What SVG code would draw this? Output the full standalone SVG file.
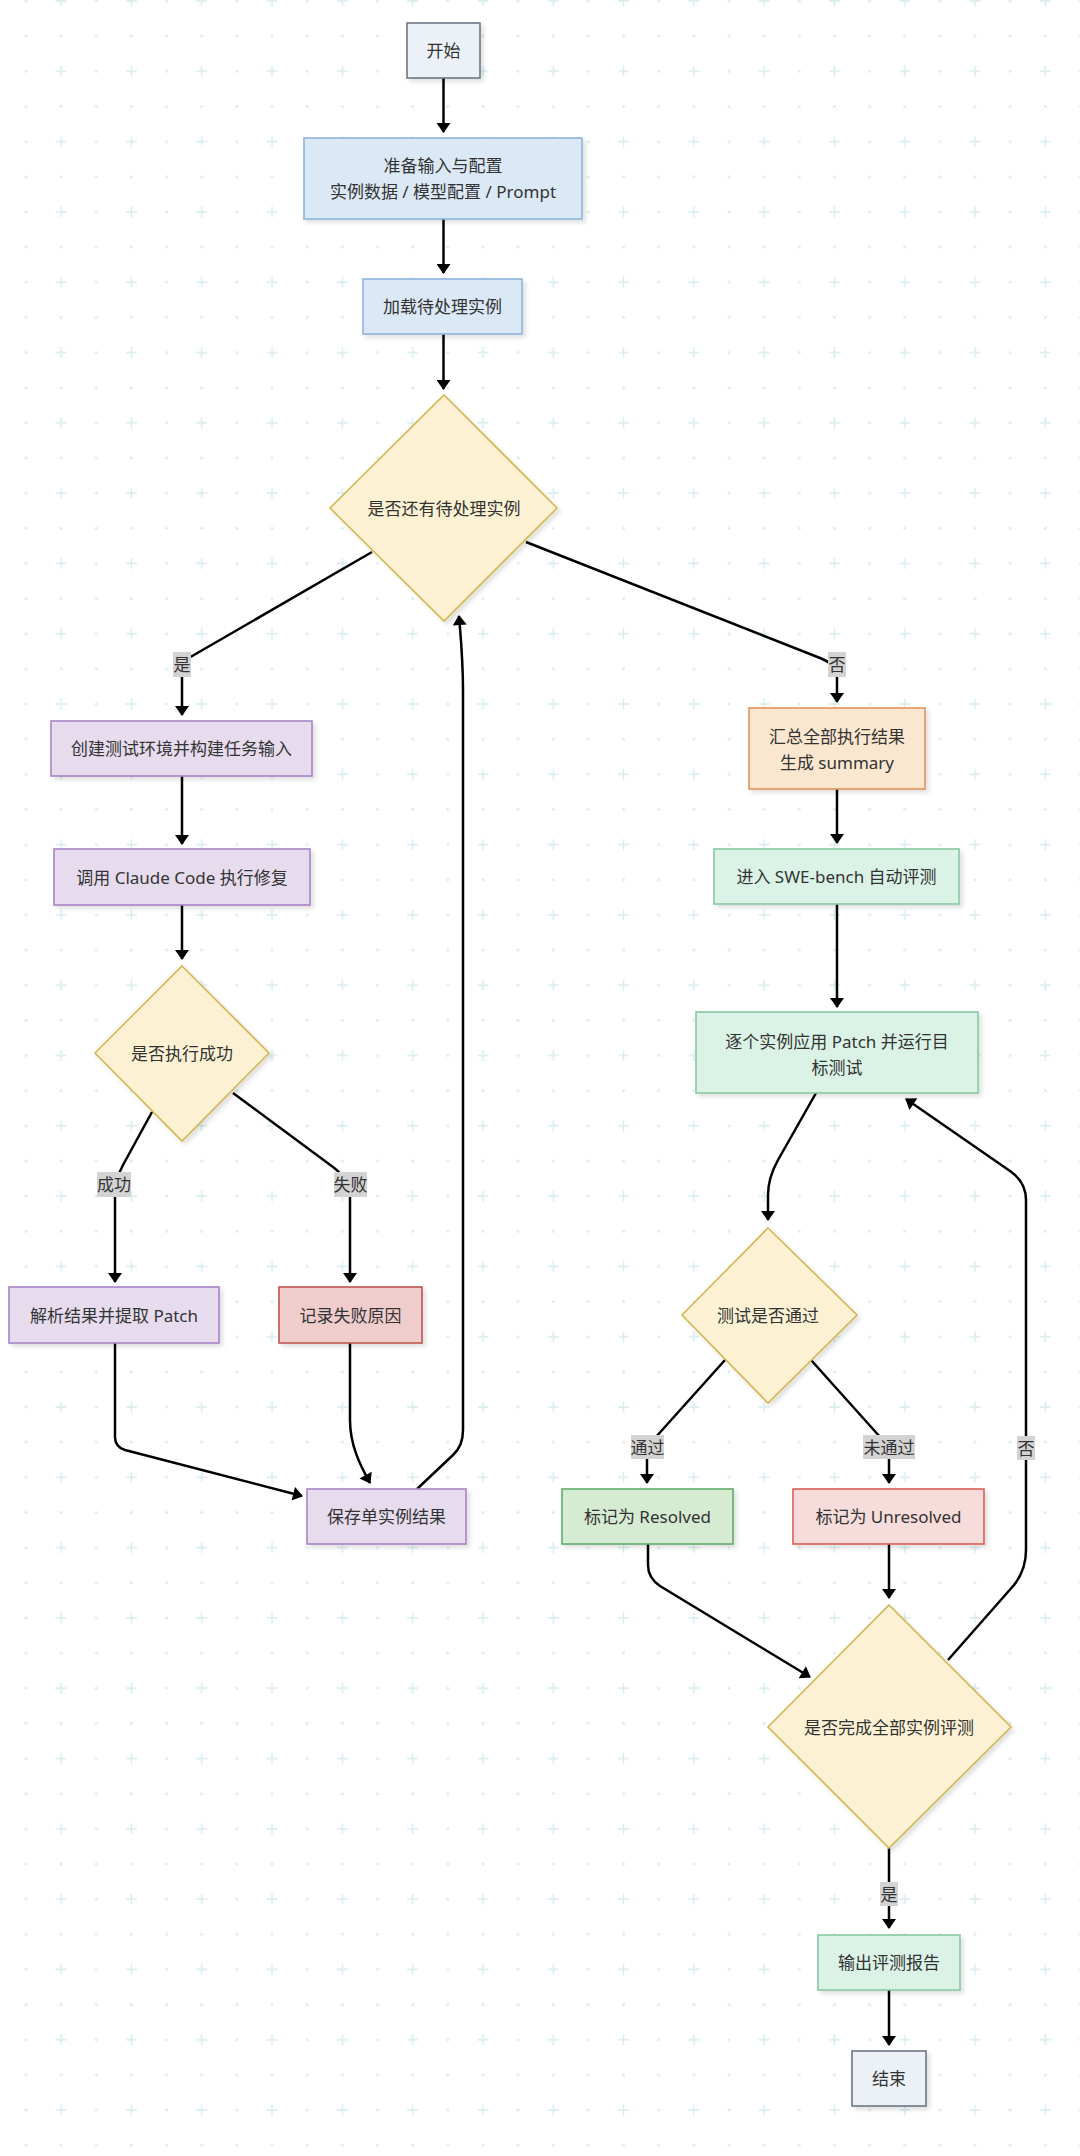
<svg xmlns="http://www.w3.org/2000/svg" width="1080" height="2156" viewBox="0 0 1080 2156">
<defs>
<pattern id="grid" patternUnits="userSpaceOnUse" x="26" y="1" width="70.3" height="70.3">
<circle cx="0" cy="0" r="1.6" fill="#e0ecec"/>
<circle cx="70.3" cy="0" r="1.6" fill="#e0ecec"/>
<circle cx="0" cy="70.3" r="1.6" fill="#e0ecec"/>
<circle cx="70.3" cy="70.3" r="1.6" fill="#e0ecec"/>
<circle cx="0" cy="35.15" r="1.6" fill="#e0ecec"/>
<circle cx="70.3" cy="35.15" r="1.6" fill="#e0ecec"/>
<circle cx="35.15" cy="35.15" r="1.6" fill="#e0ecec"/>
<path d="M35.15,-5.5 V5.5 M29.65,0 H40.65 M35.15,64.8 V75.8 M29.65,70.3 H40.65" stroke="#d6ecee" stroke-width="1.5"/>
</pattern>
<filter id="sh" x="-10%" y="-10%" width="130%" height="140%">
<feDropShadow dx="3" dy="3" stdDeviation="2" flood-color="#000" flood-opacity="0.12"/>
</filter>
<marker id="arr" markerUnits="userSpaceOnUse" viewBox="0 0 10 14" markerWidth="11" markerHeight="14" refX="9" refY="7" orient="auto">
<path d="M0,0 L10,7 L0,14 z" fill="#000"/>
</marker>
<style>
text{font-family:"Noto Sans","Noto Sans CJK SC",sans-serif;font-size:17px;fill:#333;text-anchor:middle;dominant-baseline:central}
.e{fill:none;stroke:#000;stroke-width:2.5;marker-end:url(#arr)}
.lb{fill:#d3d3d3}
.n{filter:url(#sh);stroke-width:1.6}
.term{fill:#ecf1f8;stroke:#6f7782}
.blue{fill:#dbe8f5;stroke:#8fb3dc}
.dec{fill:#fcf2d3;stroke:#d5b654}
.pur{fill:#e6dcee;stroke:#a884c6}
.red{fill:#f0cdcd;stroke:#bf5450}
.org{fill:#fbe6cf;stroke:#e3955a}
.grn{fill:#dbf3e6;stroke:#88c9a0}
.res{fill:#d5ecd3;stroke:#5fad6b}
.unr{fill:#f6dcda;stroke:#de5e58}
</style>
</defs>
<rect width="1080" height="2156" fill="#fff"/>
<rect width="1080" height="2156" fill="url(#grid)"/>

<g id="connectors">
<path class="e" d="M443.5,78 L443.5,132"/>
<path class="e" d="M443.5,219 L443.5,273"/>
<path class="e" d="M443.5,334 L443.5,389"/>
<path class="e" d="M372,552 L187,659 Q182,662 182,670 L182,715"/>
<path class="e" d="M182,776 L182,844"/>
<path class="e" d="M182,905 L182,959"/>
<path class="e" d="M152,1112 L123,1165 Q115,1180 115,1195 L115,1282"/>
<path class="e" d="M233,1093 L333,1167 Q350,1180 350,1195 L350,1282"/>
<path class="e" d="M115,1343 L115,1437 Q115,1447 125,1450 L302,1496"/>
<path class="e" d="M350,1343 L350,1420 C350,1445 360,1465 370,1483"/>
<path class="e" d="M417,1489 L453,1455 Q463,1446 463,1430 L463,690 C463,660 461,640 459,616"/>
<path class="e" d="M526,542 L820,658 Q837,665 837,674 L837,702"/>
<path class="e" d="M837,789 L837,843"/>
<path class="e" d="M837,904 L837,1007"/>
<path class="e" d="M816,1093 L778,1160 Q768,1178 768,1195 L768,1220"/>
<path class="e" d="M725,1360 L655,1438 Q647,1447 647,1455 L647,1483"/>
<path class="e" d="M811,1360 L881,1438 Q889,1447 889,1455 L889,1483"/>
<path class="e" d="M648,1544 L648,1565 Q648,1578 660,1586 L810,1677"/>
<path class="e" d="M889,1544 L889,1598"/>
<path class="e" d="M948,1660 L1014,1585 Q1026,1570 1026,1550 L1026,1200 Q1026,1182 1010,1171 L906,1099"/>
<path class="e" d="M889,1848 L889,1928"/>
<path class="e" d="M889,1990 L889,2045"/>
<rect class="lb" x="173" y="652" width="18" height="25"/><text x="182" y="664.5">是</text>
<rect class="lb" x="97" y="1172" width="34" height="25"/><text x="114" y="1184.5">成功</text>
<rect class="lb" x="334" y="1172" width="33" height="25"/><text x="350.5" y="1184.5">失败</text>
<rect class="lb" x="828" y="652" width="18" height="25"/><text x="837" y="664.5">否</text>
<rect class="lb" x="631" y="1435" width="33" height="24"/><text x="647.5" y="1447">通过</text>
<rect class="lb" x="863" y="1435" width="52" height="24"/><text x="889" y="1447">未通过</text>
<rect class="lb" x="1017" y="1436" width="18" height="24"/><text x="1026" y="1448">否</text>
<rect class="lb" x="880" y="1882" width="18" height="24"/><text x="889" y="1894">是</text>
</g>

<g id="start"><rect class="n term" x="407" y="23" width="73" height="55"/><text x="443.5" y="50.5">开始</text></g>
<g id="prepare"><rect class="n blue" x="304" y="138" width="278" height="81"/><text x="443" y="165.5">准备输入与配置</text><text x="443" y="191.5">实例数据 / 模型配置 / Prompt</text></g>
<g id="load"><rect class="n blue" x="363" y="279" width="159" height="55"/><text x="442.5" y="306.5">加载待处理实例</text></g>
<g id="hasMore"><polygon class="n dec" points="444,395 557,508 444,621 330,508"/><text x="444" y="508">是否还有待处理实例</text></g>
<g id="createEnv"><rect class="n pur" x="51" y="721" width="261" height="55"/><text x="181.5" y="748.5">创建测试环境并构建任务输入</text></g>
<g id="callClaude"><rect class="n pur" x="54" y="849" width="256" height="56"/><text x="182" y="877">调用 Claude Code 执行修复</text></g>
<g id="execOk"><polygon class="n dec" points="182,966 269,1053 182,1141 95,1053"/><text x="182" y="1053">是否执行成功</text></g>
<g id="parse"><rect class="n pur" x="9" y="1287" width="210" height="56"/><text x="114" y="1315">解析结果并提取 Patch</text></g>
<g id="recordFail"><rect class="n red" x="279" y="1287" width="143" height="56"/><text x="350.5" y="1315">记录失败原因</text></g>
<g id="save"><rect class="n pur" x="307" y="1489" width="159" height="55"/><text x="386.5" y="1516.5">保存单实例结果</text></g>
<g id="summary"><rect class="n org" x="749" y="708" width="176" height="81"/><text x="837" y="736">汇总全部执行结果</text><text x="837" y="762">生成 summary</text></g>
<g id="sweBench"><rect class="n grn" x="714" y="849" width="245" height="55"/><text x="836.5" y="876.5">进入 SWE-bench 自动评测</text></g>
<g id="applyPatch"><rect class="n grn" x="696" y="1012" width="282" height="81"/><text x="837" y="1041">逐个实例应用 Patch 并运行目</text><text x="837" y="1067">标测试</text></g>
<g id="testPass"><polygon class="n dec" points="768,1228 857,1315 768,1403 682,1315"/><text x="768" y="1315">测试是否通过</text></g>
<g id="resolved"><rect class="n res" x="562" y="1489" width="171" height="55"/><text x="647.5" y="1516.5">标记为 Resolved</text></g>
<g id="unresolved"><rect class="n unr" x="793" y="1489" width="191" height="55"/><text x="888.5" y="1516.5">标记为 Unresolved</text></g>
<g id="allDone"><polygon class="n dec" points="889,1605 1011,1727 889,1848 768,1727"/><text x="889" y="1727">是否完成全部实例评测</text></g>
<g id="report"><rect class="n grn" x="818" y="1935" width="142" height="55"/><text x="889" y="1962.5">输出评测报告</text></g>
<g id="end"><rect class="n term" x="852" y="2051" width="74" height="55"/><text x="889" y="2078.5">结束</text></g>
</svg>
